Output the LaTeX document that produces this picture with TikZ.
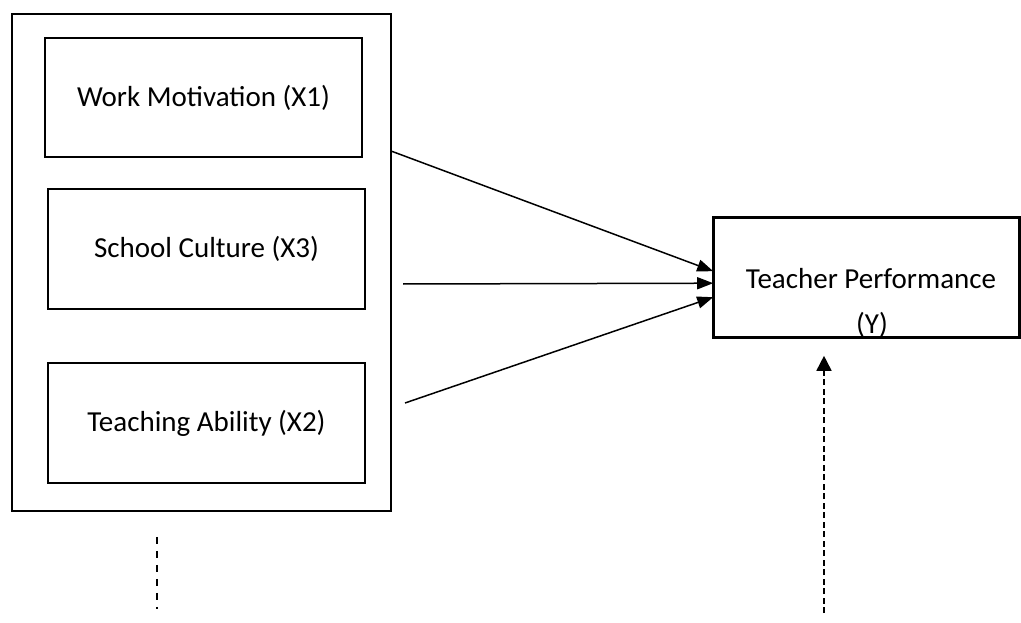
\documentclass[tikz,border=0pt]{standalone}
\usepackage{fontspec}
\setmainfont{Carlito}
\usetikzlibrary{arrows.meta,calc}
\tikzset{
  box/.style={draw=black, line width=1.6pt, inner sep=0pt, fill=white,
    font=\fontsize{29}{35}\selectfont, align=center},
  lbl/.style={inner sep=0pt, font=\fontsize{29}{35}\selectfont},
  conn/.style={line width=1.5pt, -{Triangle[length=16pt,width=12pt]}},
  dconn/.style={line width=1.6pt, dash pattern=on 6pt off 3.5pt, -{Triangle[length=15pt,width=15pt]}},
  dline/.style={line width=1.6pt, dash pattern=on 7pt off 7pt}
}
\begin{document}
\begin{tikzpicture}[x=1pt,y=-1pt]
\useasboundingbox (0,0) rectangle (1021,623);
% outer frame
\node[box, minimum width=379pt, minimum height=497pt] (outer) at (201.5,262.5) {};
% inner boxes
\node[box, minimum width=317pt, minimum height=119pt] (x1) at (203.5,97.5) {Work Motivation (X1)};
\node[box, minimum width=317pt, minimum height=120pt] (x3) at (206.5,249) {School Culture (X3)};
\node[box, minimum width=317pt, minimum height=120pt] (x2) at (206.5,423) {Teaching Ability (X2)};
% target box
\node[box, minimum width=305pt, minimum height=119pt] (ty) at (866.5,277.5) {};
\begin{scope}
  \clip (ty.south west) rectangle (ty.north east);
  \node[lbl, anchor=base] (tyl1) at (871,288) {Teacher Performance};
  \node[lbl, anchor=base] (tyl2) at (872,333) {(Y)};
\end{scope}
\draw[line width=1.6pt] (ty.south west) rectangle (ty.north east);
% connector start points
\coordinate (s1) at (391,151);
\coordinate (s3) at (403,284);
\coordinate (s2) at (405,403);
\coordinate (e1) at (157,609);
\coordinate (e2) at (824,613);
% arrows
\draw[conn] (s1) -- ($(ty.north west)+(0,54)$);
\draw[conn] (s3) -- ($(ty.north west)+(0,66)$);
\draw[conn] (s2) -- ($(ty.north west)+(0,80)$);
% dashed lines
\draw[dline] ([yshift=-25pt]outer.south -| e1) -- (e1);
\draw[dconn] (e2) -- ([yshift=-18pt]ty.south -| e2);
\end{tikzpicture}
\end{document}
